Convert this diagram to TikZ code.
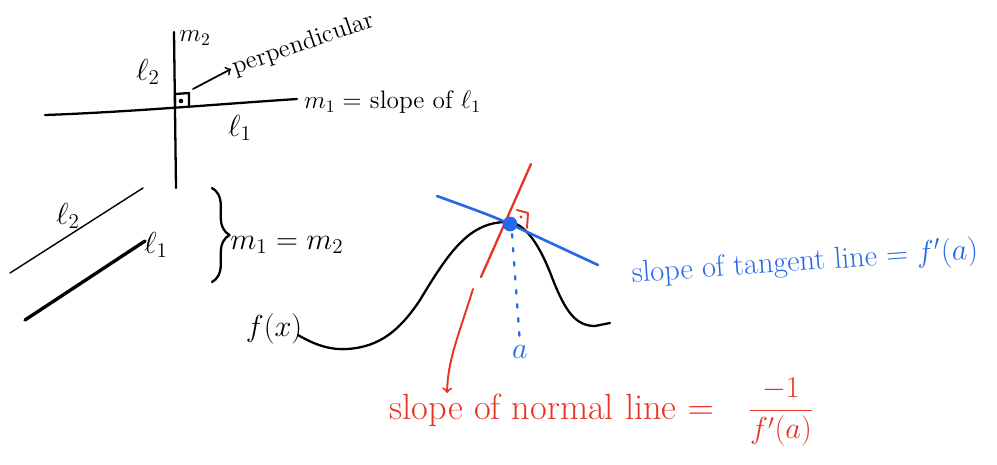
\documentclass[tikz,border=0pt]{standalone}
\usepackage{amsmath,amssymb}
\usepackage{xcolor}
\usetikzlibrary{arrows,calc,decorations.pathreplacing}

\definecolor{penred}{RGB}{232,52,36}
\definecolor{penblue}{RGB}{38,104,232}

\begin{document}
\begin{tikzpicture}[x=0.02cm, y=-0.02cm, line cap=round, line join=round,
  pen/.style={line width=1.3pt},
  lbl/.style={inner sep=1pt}]
\useasboundingbox (0,0) rectangle (997,464);
% perpendicular lines: l1 across, l2 up
\draw[pen] (45,115) .. controls (130,112) and (220,104) .. (297,99);
\draw[pen] (174,32) -- (176,188);
\draw[pen] (175,107) -- (175,94) -- (189,93) -- (189,106);
\fill (181,101) circle (1.3pt);
\node[lbl] (ltwo) at (148,72) {\LARGE $\ell_2$};
\node[lbl] (mtwo) at (195,38) {\Large $m_2$};
\node[lbl] (lone) at (240,128) {\LARGE $\ell_1$};
\node[lbl, anchor=west] (mone) at (302,102) {\Large $m_1 = $ slope of $\ell_1$};
\coordinate (sqtip) at (193,89);
\node[lbl, anchor=west, rotate=19] (perp) at (231,69) {\Large perpendicular};
\draw[pen, line width=1pt, ->] (sqtip) -- (perp.west);
% parallel lines
\draw[line width=0.8pt] (10,273) -- (143,188);
\draw[line width=1.9pt] (25,320) -- (145,241);
\node[lbl] (ltwop) at (68,216) {\LARGE $\ell_2$};
\node[lbl] (lonep) at (156,245) {\LARGE $\ell_1$};
\draw[pen, decorate, decoration={brace, amplitude=10pt}] (212,188) -- (212,282);
\node[lbl] (equal) at (287,245) {\LARGE $m_1 = m_2$};
% the curve f(x)
\node[lbl] (fx) at (274,329) {\LARGE $f(x)$};
\draw[pen] (298,335) .. controls (315,345) and (330,350) .. (347,349)
  .. controls (380,347) and (400,330) .. (420,300)
  .. controls (450,250) and (470,222) .. (507,222)
  .. controls (525,222) and (540,245) .. (553,280)
  .. controls (565,310) and (575,326) .. (595,326) -- (610,323);
% tangent and normal at a
\coordinate (pt) at (510,224);
\draw[penblue, line width=1.5pt] (437,196) .. controls (470,208) and (490,215) .. (pt) -- (598,265);
\draw[penred, pen] (531,164) -- (481,277);
\draw[penred, line width=1.1pt] (517,210) -- (528,213) -- (527,228);
\fill[penred] (521,217) circle (0.9pt);
\fill[penblue] (pt) circle (4.2pt);
\node[lbl, penblue] (apt) at (520,352) {\LARGE $a$};
\draw[penblue, pen, dash pattern=on 2pt off 6pt] (512,234) -- (apt.north);
\node[lbl, penblue, rotate=4] (tang) at (805,263) {\LARGE slope of tangent line $= f'(a)$};
\node[lbl, penred, anchor=east] (norm) at (716,410) {\huge slope of normal line $=$};
\node[lbl, penred] (frac) at (781,412) {\LARGE $\dfrac{-1}{f'(a)}$};
\coordinate (nstart) at (473,289);
\draw[penred, line width=1.1pt, ->] (nstart) .. controls (457,340) and (448,360) .. (447,393);
\end{tikzpicture}
\end{document}
